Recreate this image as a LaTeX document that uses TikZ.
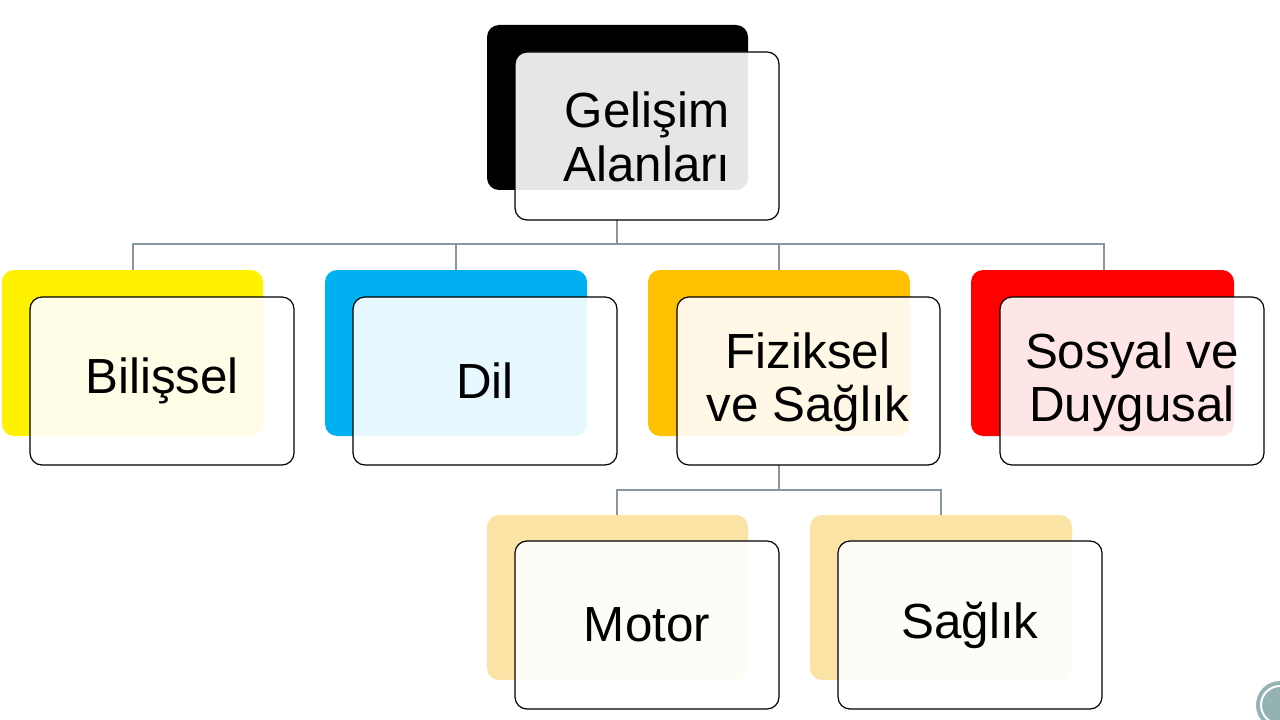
\documentclass[tikz,border=0pt]{standalone}
\usepackage{fontspec}
\setmainfont{Liberation Sans}
\begin{document}
\begin{tikzpicture}[x=0.75pt,y=-0.75pt,
  back/.style={rounded corners=9pt,draw=none},
  front/.style={rounded corners=9pt,draw=black,line width=0.9pt,fill=white,fill opacity=0.9},
  lbl/.style={font=\fontsize{37}{40}\selectfont,align=center},
  conn/.style={draw=gray!60!cyan!40!gray,line width=0.9pt}]
\useasboundingbox (0,0) rectangle (1280,720);
\clip (0,0) rectangle (1280,720);
\definecolor{dilb}{HTML}{00B0F0}
\definecolor{orng}{HTML}{FFC000}
\definecolor{lorng}{HTML}{FBE3A6}
% connectors
\draw[conn] (617,220) -- (617,244);
\draw[conn] (133,270) -- (133,244) -- (1104,244) -- (1104,270);
\draw[conn] (456,244) -- (456,270);
\draw[conn] (779,244) -- (779,270);
\draw[conn] (779,465) -- (779,490);
\draw[conn] (617,515) -- (617,490) -- (941,490) -- (941,515);
% top
\fill[back,black] (487,25) rectangle (748,190);
\draw[front] (515,52) rectangle (779,220);
\node[lbl] (top) at (647,137) {Gelişim\\Alanları};
% level 1
\fill[back,yellow] (2,270) rectangle (263,436);
\draw[front] (30,297) rectangle (294,465);
\node[lbl] (b) at (162,381) {Bilişsel};
\fill[back,dilb] (325,270) rectangle (587,436);
\draw[front] (353,297) rectangle (617,465);
\node[lbl] (d) at (485,381) {Dil};
\fill[back,orng] (648,270) rectangle (910,436);
\draw[front] (677,297) rectangle (940,465);
\node[lbl] (f) at (808,382) {Fiziksel\\ve Sağlık};
\fill[back,red] (971,270) rectangle (1234,436);
\draw[front] (1000,297) rectangle (1264,465);
\node[lbl] (s) at (1132,382) {Sosyal ve\\Duygusal};
% level 2
\fill[back,lorng] (487,515) rectangle (748,680);
\draw[front] (515,541) rectangle (779,709);
\node[lbl] (m) at (647,625) {Motor};
\fill[back,lorng] (810,515) rectangle (1072,680);
\draw[front] (838,541) rectangle (1102,709);
\node[lbl] (sg) at (970,625) {Sağlık};
% corner decoration
\fill[gray!60!teal!60] (1280,705) circle (24);
\draw[white,line width=1.5pt] (1280,705) circle (19);
\end{tikzpicture}
\end{document}
